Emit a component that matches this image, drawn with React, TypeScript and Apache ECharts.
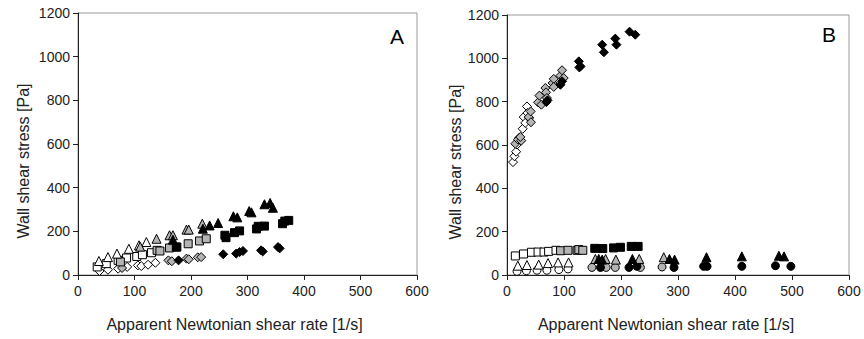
import React, { useEffect, useRef } from "react";
import * as echarts from "echarts";

// Panel A data: [shear rate 1/s, wall shear stress Pa]
const aTriOpen = [[37, 64], [53, 82], [69, 98], [90, 120], [108, 136], [121, 151]];
const aTriGray = [[110, 130], [139, 166], [162, 182], [168, 182], [192, 208], [196, 208], [220, 235]];
const aTriBlack = [[168, 162], [221, 212], [233, 227], [248, 238], [275, 269], [282, 264], [303, 293], [307, 287], [330, 324], [340, 330], [345, 308]];
const aSqOpen = [[34, 37], [50, 52], [71, 67], [86, 78], [104, 85], [114, 93], [130, 102]];
const aSqGray = [[75, 60], [140, 113], [145, 110], [162, 124], [175, 128], [195, 143], [215, 156], [227, 166]];
const aSqBlack = [[174, 128], [260, 182], [262, 171], [277, 194], [286, 202], [316, 211], [319, 223], [330, 224], [362, 235], [366, 247], [373, 250]];
const aDiaOpen = [[38, 18], [53, 24], [71, 29], [87, 37], [106, 44], [112, 41], [124, 47], [137, 56]];
const aDiaGray = [[78, 32], [160, 67], [166, 63], [192, 75], [196, 72], [212, 81], [218, 82]];
const aDiaBlack = [[178, 67], [257, 95], [280, 98], [286, 105], [292, 110], [324, 113], [327, 108], [354, 128], [357, 122]];

// Panel B data
const bDiaOpen = [[10.5, 521], [13, 548], [16, 569], [17.6, 602], [21.7, 634], [27.5, 675], [29.3, 729], [32, 702], [35, 778], [36, 748], [39, 725]];
const bDiaGray = [[14.6, 606], [19.3, 625], [25, 620], [23.4, 637], [38, 729], [41.5, 755], [42, 705], [54.5, 797], [56.8, 828], [60.3, 786], [67.3, 863], [68.5, 843], [70, 817], [80, 886], [82, 905], [82, 868], [93.7, 920], [96.6, 945], [99.5, 909]];
const bDiaBlack = [[69, 798], [71, 806], [93.7, 878], [96.6, 894], [126, 986], [127, 958], [129, 963], [167, 1063], [170, 1028], [190, 1091], [192, 1063], [215, 1123], [225, 1109]];
const bSqOpen = [[14.6, 88], [29, 97], [43, 105], [54.5, 106], [65, 106], [73, 109], [86, 114]];
const bSqGray = [[94, 112], [107, 114], [123, 114], [126, 117], [133, 114]];
const bSqBlack = [[154, 123], [168, 122], [187, 125], [199, 128], [218, 132], [230, 132]];
const bTriOpen = [[19, 43], [35, 46], [55.6, 48], [72, 55], [89.6, 58], [108, 58]];
const bTriGray = [[155, 74], [173, 74], [191, 71], [232, 74], [275, 82]];
const bTriBlack = [[161, 74], [167, 71], [220, 74], [285, 74], [294, 71], [350, 82], [412, 86], [477, 89], [486, 86]];
const bCirOpen = [[17.6, 17], [34, 20], [52.7, 22], [70, 22], [91, 25], [107, 28]];
const bCirGray = [[149, 35], [174, 35], [190, 35], [234, 35], [272, 37]];
const bCirBlack = [[164, 35], [214, 35], [228, 40], [293, 35], [345, 40], [351, 40], [412, 40], [471, 43], [498, 40]];

const xTicks = [0, 100, 200, 300, 400, 500, 600];
const yTicks = [0, 200, 400, 600, 800, 1000, 1200];

const FONT = "Liberation Sans, Arial, sans-serif";
const WHITE = "#ffffff";
const GRAY = "#b4b4b4";
const BLACK = "#000000";

function mk(data: number[][], symbol: string, fill: string, grid: number, size: number) {
  return {
    type: "scatter",
    xAxisIndex: grid,
    yAxisIndex: grid,
    data,
    symbol,
    symbolSize: size,
    itemStyle: { color: fill, borderColor: "#000", borderWidth: 1, opacity: 1 },
    emphasis: { disabled: true },
  };
}

export default function App() {
  const ref = useRef<HTMLDivElement>(null);
  useEffect(() => {
    const chart = echarts.init(ref.current!, undefined, { renderer: "svg" });
    const xAxisBase = (gi: number, shift: number) => ({
      type: "value",
      gridIndex: gi,
      min: xTicks[0],
      max: xTicks[xTicks.length - 1],
      interval: 100,
      name: "Apparent Newtonian shear rate [1/s]",
      nameLocation: "middle",
      nameGap: 41,
      nameTextStyle: { fontFamily: FONT, fontSize: 16, color: "#222", padding: [0, shift * 2, 0, 0] },
      axisLine: { show: true, lineStyle: { color: "#222", width: 1 } },
      axisTick: { show: true, length: 5, lineStyle: { color: "#222" } },
      axisLabel: { fontFamily: FONT, fontSize: 14, color: "#222", margin: 9, formatter: (v: number) => String(v) },
      splitLine: { show: false },
    });
    const yAxisBase = (gi: number, gap: number, shift: number) => ({
      type: "value",
      gridIndex: gi,
      min: yTicks[0],
      max: yTicks[yTicks.length - 1],
      interval: 200,
      name: "Wall shear stress [Pa]",
      nameLocation: "middle",
      nameGap: gap,
      nameTextStyle: { fontFamily: FONT, fontSize: 16, color: "#222", padding: [0, shift * 2, 0, 0] },
      axisLine: { show: true, lineStyle: { color: "#222", width: 1 } },
      axisTick: { show: true, length: 5, lineStyle: { color: "#222" } },
      axisLabel: { fontFamily: FONT, fontSize: 14, color: "#222", margin: 8, formatter: (v: number) => String(v) },
      splitLine: { show: false },
    });
    chart.setOption({
      animation: false,
      grid: [
        { left: 78, top: 13, width: 339, height: 262, show: true, borderColor: "#999", borderWidth: 1, backgroundColor: "transparent" },
        { left: 507, top: 15, width: 342, height: 260, show: true, borderColor: "#999", borderWidth: 1, backgroundColor: "transparent" },
      ],
      xAxis: [xAxisBase(0, 13), xAxisBase(1, 12)],
      yAxis: [yAxisBase(0, 47, 17), yAxisBase(1, 44, 17)],
      graphic: [
        { type: "text", x: 397, y: 36, style: { text: "A", fontFamily: FONT, fontSize: 21, fill: "#000", align: "center", verticalAlign: "middle" } },
        { type: "text", x: 829, y: 34, style: { text: "B", fontFamily: FONT, fontSize: 21, fill: "#000", align: "center", verticalAlign: "middle" } },
      ],
      series: [
        mk(aDiaOpen, "diamond", WHITE, 0, 9),
        mk(aDiaGray, "diamond", GRAY, 0, 9),
        mk(aDiaBlack, "diamond", BLACK, 0, 9),
        mk(aSqOpen, "rect", WHITE, 0, 8),
        mk(aSqGray, "rect", GRAY, 0, 8),
        mk(aSqBlack, "rect", BLACK, 0, 8),
        mk(aTriOpen, "triangle", WHITE, 0, 9),
        mk(aTriGray, "triangle", GRAY, 0, 9),
        mk(aTriBlack, "triangle", BLACK, 0, 9),
        mk(bDiaOpen, "diamond", WHITE, 1, 9),
        mk(bDiaGray, "diamond", GRAY, 1, 9),
        mk(bDiaBlack, "diamond", BLACK, 1, 9),
        mk(bSqOpen, "rect", WHITE, 1, 8),
        mk(bSqGray, "rect", GRAY, 1, 8),
        mk(bSqBlack, "rect", BLACK, 1, 8),
        mk(bCirOpen, "circle", WHITE, 1, 8),
        mk(bCirGray, "circle", GRAY, 1, 8),
        mk(bCirBlack, "circle", BLACK, 1, 8),
        mk(bTriOpen, "triangle", WHITE, 1, 9),
        mk(bTriGray, "triangle", GRAY, 1, 9),
        mk(bTriBlack, "triangle", BLACK, 1, 9),
      ],
    });
    return () => chart.dispose();
  }, []);
  return (
    <div
      ref={ref}
      style={{ position: "fixed", left: 0, top: 0, width: 864, height: 339, background: "#fff" }}
    />
  );
}
